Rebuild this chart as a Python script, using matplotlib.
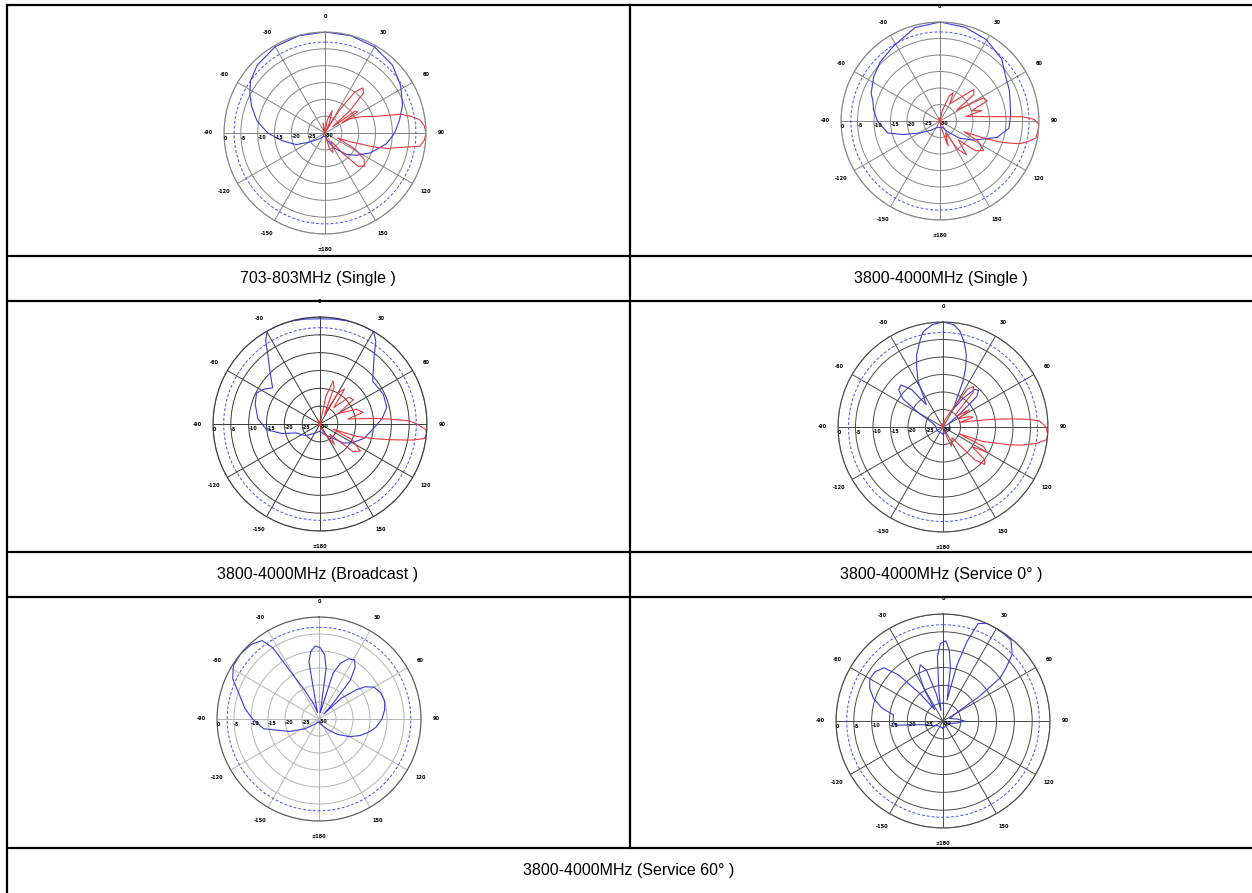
import numpy as np
import matplotlib
matplotlib.use("Agg")
import matplotlib.pyplot as plt

# antenna pattern sheet: 6 polar plots in a 2-column table

W, H = 1252, 893

captions = ["703-803MHz (Single )", "3800-4000MHz (Single )",
            "3800-4000MHz (Broadcast )", "3800-4000MHz (Service 0° )",
            "3800-4000MHz (Service 60° )"]

angle_ticks = [0, 30, 60, 90, 120, 150, 180, 210, 240, 270, 300, 330]
angle_labels = ["0", "30", "60", "90", "120", "150", "±180",
                "-150", "-120", "-90", "-60", "-30"]
ring_db = [-25, -20, -15, -10, -5, 0]
rlabel_db = [0, -5, -10, -15, -20, -25, -30]
rlabel_txt = ["0", "-5", "-10", "-15", "-20", "-25", "-30"]

# 703-803MHz (Single)
p1_blue_ang = [-180, -160, -140, -125, -118, -112, -100, -90, -80, -70, -62, -55, -45, -30, -15,
               0, 15, 30, 45, 58, 70, 80, 90, 100, 114, 125, 135, 150, 165, 180]
p1_blue_db = [-29, -29, -28, -26, -24, -20.8, -17, -13, -9.5, -6.8, -4.7, -3, -1.5, -0.4, -0.1,
              0, -0.1, -0.5, -1.6, -3.5, -5.5, -7.5, -9.3, -11.5, -15.4, -18.5, -21, -25, -28, -29]
p1_red_ang = [-180, -120, -60, -25, -10, 0, 10, 18, 24, 28, 32, 36, 40, 44, 48, 51,
              54, 57, 59, 60, 66, 72, 76, 79, 82, 86, 90, 94, 98, 101, 104, 106, 109, 112,
              118, 124, 130, 135, 139, 143, 152, 158, 164, 170, 180]
p1_red_db = [-30, -29.5, -30, -29, -27, -30, -26, -23, -27, -29, -22, -15, -12.5, -13.5, -20, -27,
             -19, -18.5, -24, -21.6, -18, -14, -7, -4, -1.6, -0.4, 0, -0.4, -1.6, -7.4, -11, -15, -22, -26,
             -20, -16, -14.7, -16, -22, -27, -25, -23.8, -25, -29, -30]

# 3800-4000MHz (Single)
p2_blue_ang = [-180, -160, -135, -121, -110, -103, -90, -80, -74, -68, -56, -45, -32, -15,
               0, 15, 29.5, 45, 56, 66, 75, 85, 96, 106, 111, 120, 131, 145, 160, 180]
p2_blue_db = [-28, -28, -26, -23, -18, -13.8, -11, -9.5, -8.9, -7.5, -5.8, -4.5, -3.3, -0.7,
              0, -0.6, -1.6, -3.5, -6, -7, -8, -8.5, -9, -12, -15, -18.5, -22, -26, -28, -28]
p2_red_ang = [-180, -120, -60, -20, 0, 12, 20, 25, 30, 40, 47, 52, 57, 62, 67, 72, 76, 80,
              82, 85, 87, 89, 92, 96, 100, 103, 106, 109, 111, 114,
              118, 124, 130, 136, 142, 148, 155, 162, 170, 180]
p2_red_db = [-30, -29.5, -30, -29, -30, -27, -22, -20.5, -24, -21, -16, -17, -24, -15, -14.5, -20, -17, -22,
             -20, -15, -5, -1.5, 0, -0.2, -0.5, -2.5, -5, -10, -15, -22,
             -17, -14, -16, -22, -17, -20, -26, -22, -28, -30]

# 3800-4000MHz (Broadcast)
p3_blue_ang = [-180, -150, -130, -120, -111, -104, -96, -85, -73, -64, -58, -52.7, -43.5, -37, -33,
               -29.5, -22, -16, -8, 0, 8, 16, 22, 30, 34, 38, 45, 51, 58, 65, 76,
               85, 95, 108, 120, 129, 140, 160, 180]
p3_blue_db = [-28, -27, -25, -24, -23, -19, -14.9, -12.5, -11, -10.2, -11.5, -13.3, -9.6, -5.7, -2,
              0, 0, 0, -0.3, -0.5, -0.3, 0, 0, 0, -2, -5.3, -8.9, -11, -10.8, -10.4, -10.7,
              -12.5, -15, -17, -19.5, -21.5, -25, -27, -28]
p3_red_ang = [-180, -120, -60, -20, 0, 12, 17, 21, 25, 30, 35, 40, 47, 54, 60, 68, 75, 78,
              80, 84, 86, 88, 90, 93, 95.5, 98, 100, 102.6, 105, 108.6, 112,
              116, 124, 130, 136, 145, 155, 170, 180]
p3_red_db = [-30, -29.5, -30, -29, -30, -22, -17.4, -19, -27, -20, -18, -24, -19, -18.4, -24, -19, -17.5, -21,
             -22, -15, -10.3, -5, -2.8, -0.3, 0, -0.5, -4, -9.8, -14, -19, -26,
             -20, -16.4, -18, -26, -23, -27, -29, -30]

# 3800-4000MHz (Service 0°)
p4_blue_ang = [-180, -120, -90, -70, -60, -55, -50, -45, -40, -37, -33, -28.7, -24, -20, -15, -11.8, -6,
               0, 6, 9.9, 14, 17.9, 21, 23.6, 26, 30, 35, 40, 44, 48, 52, 60, 90, 120, 180]
p4_blue_db = [-28, -28, -28, -27, -22, -16, -13.5, -13, -16, -22, -20, -15.2, -11.5, -8, -4.5, -2.2, -0.6,
              0, -0.6, -2.1, -5, -8.3, -12, -15.7, -21, -24, -20, -16, -15.4, -17, -24, -28, -28, -28, -28]
p4_red_ang = [-180, -120, -60, -20, 0, 15, 28, 33, 37, 41, 45, 52, 57, 62, 68, 72, 75,
              78, 81, 83, 85, 86.5, 90, 94, 97, 100, 103, 105, 110, 113,
              116, 120, 124, 128, 132, 136, 140, 150, 157, 165, 180]
p4_red_db = [-30, -29.5, -30, -29, -30, -28, -24, -17, -15.5, -17, -25, -25, -21, -25, -22, -21, -25,
             -22, -16, -11, -5, -2.3, -0.6, 0, -0.2, -3, -7, -10.4, -18, -25,
             -17, -15.5, -20, -15, -14, -17, -26, -25, -24, -29, -30]

# 3800-4000MHz (Service 60°), left plot
p5_blue_ang = [-180, -160, -140, -125, -113, -100, -90, -82, -73, -65, -58, -50, -42, -36, -33,
               -30, -27, -20, -14, -10, -7, -3, 1, 5, 8, 11,
               14, 17, 21, 26, 31, 35, 39, 42, 44, 47, 52, 55, 60, 67, 75, 82, 90,
               98, 104, 112, 120, 130, 140, 155, 180]
p5_blue_db = [-29, -29, -28, -25, -20.6, -13.5, -10.5, -8, -5.5, -2, -0.3, 0, -0.4, -1.5, -5,
              -16, -20, -25, -28, -13, -10, -8.5, -9, -11, -15, -28,
              -27, -16, -12.5, -10.3, -9.7, -11.5, -15.5, -24, -28, -21, -16, -13.5, -11.3, -10.3, -10, -10.5, -11.5,
              -13, -14.6, -17, -19.6, -23, -26, -28, -29]

# 3800-4000MHz (Service 60°), right plot
p6_blue_ang = [-180, -130, -115, -100, -95, -90, -83, -78, -72, -66, -60, -54, -48, -44, -40,
               -36, -33, -31, -27, -22, -18, -14, -11, -8, -5, -2, 2, 5, 8, 11,
               14, 16.8, 19.8, 24, 29, 35, 40, 46, 50, 53, 56, 58, 70, 82, 90, 98, 110, 180]
p6_blue_db = [-28, -28, -27, -24, -16.5, -16, -16, -12.5, -9.5, -7.5, -6.3, -6.5, -7.7, -12, -20,
              -26, -24, -20, -15, -13, -15, -22, -27, -22, -12, -8.3, -7.5, -10, -15, -24,
              -14, -6.7, -1, 0, 0, -0.2, -0.4, -3, -7, -10, -18, -25, -28, -26, -24, -26, -28, -28]

panels = [
    # cx, cy, R, grid colour, blue, red
    (325, 133, 101, "#858585", (p1_blue_ang, p1_blue_db), (p1_red_ang, p1_red_db)),
    (940, 121, 99, "#858585", (p2_blue_ang, p2_blue_db), (p2_red_ang, p2_red_db)),
    (320, 424, 107, "#3a3a3a", (p3_blue_ang, p3_blue_db), (p3_red_ang, p3_red_db)),
    (943, 427, 105, "#4a4a4a", (p4_blue_ang, p4_blue_db), (p4_red_ang, p4_red_db)),
    (319, 719, 102, "#b5b5b5", (p5_blue_ang, p5_blue_db), None),
    (943, 721, 107, "#4a4a4a", (p6_blue_ang, p6_blue_db), None),
]

fig = plt.figure(figsize=(W / 100, H / 100), dpi=100)

# table
tab = fig.add_axes([0, 0, 1, 1])
tab.set_xlim(0, W)
tab.set_ylim(H, 0)
tab.axis("off")
for y in [5, 256, 301, 552, 597, 848]:
    tab.plot([7, W], [y, y], color="black", lw=1.6, solid_capstyle="butt")
tab.plot([7, 7], [5, H], color="black", lw=1.6)
tab.plot([630, 630], [5, 848], color="black", lw=1.6)

cap_font = dict(fontsize=11.5, family=["Liberation Sans", "DejaVu Sans"], ha="center", va="center")
tab.text(318, 279, captions[0], **cap_font)
tab.text(941, 279, captions[1], **cap_font)
tab.text(318, 575, captions[2], **cap_font)
tab.text(941, 575, captions[3], **cap_font)
tab.text(629, 870, captions[4], **cap_font)

circ = np.linspace(0, 2 * np.pi, 361)

for cx, cy, R, gc, blue, red in panels:
    ax = fig.add_axes([(cx - R) / W, 1 - (cy + R) / H, 2 * R / W, 2 * R / H], projection="polar")
    ax.set_theta_zero_location("N")
    ax.set_theta_direction(-1)
    ax.set_ylim(-30, 0)
    ax.set_yticks(ring_db)
    ax.set_yticklabels([])
    ax.set_thetagrids(angle_ticks, angle_labels, fontsize=3.6, fontweight="bold")
    ax.tick_params(axis="x", pad=0.5)
    ax.grid(color=gc, lw=0.7)
    ax.spines["polar"].set_color("#555555" if gc == "#b5b5b5" else gc)
    ax.spines["polar"].set_linewidth(0.8)
    ax.set_facecolor("none")

    for r, t in zip(rlabel_db, rlabel_txt):
        ax.text(np.deg2rad(-90) - 0.03, r, t, fontsize=3.4, fontweight="bold", ha="left", va="top")

    ax.plot(circ, np.full_like(circ, -3), color="#4b4bf0", lw=0.7, ls=(0, (3, 2)))
    ax.plot(np.deg2rad(blue[0]), blue[1], color="#3a3ad8", lw=0.8)
    if red is not None:
        ax.plot(np.deg2rad(red[0]), red[1], color="#e8383d", lw=0.8)

fig.savefig("out.png", dpi=100)
